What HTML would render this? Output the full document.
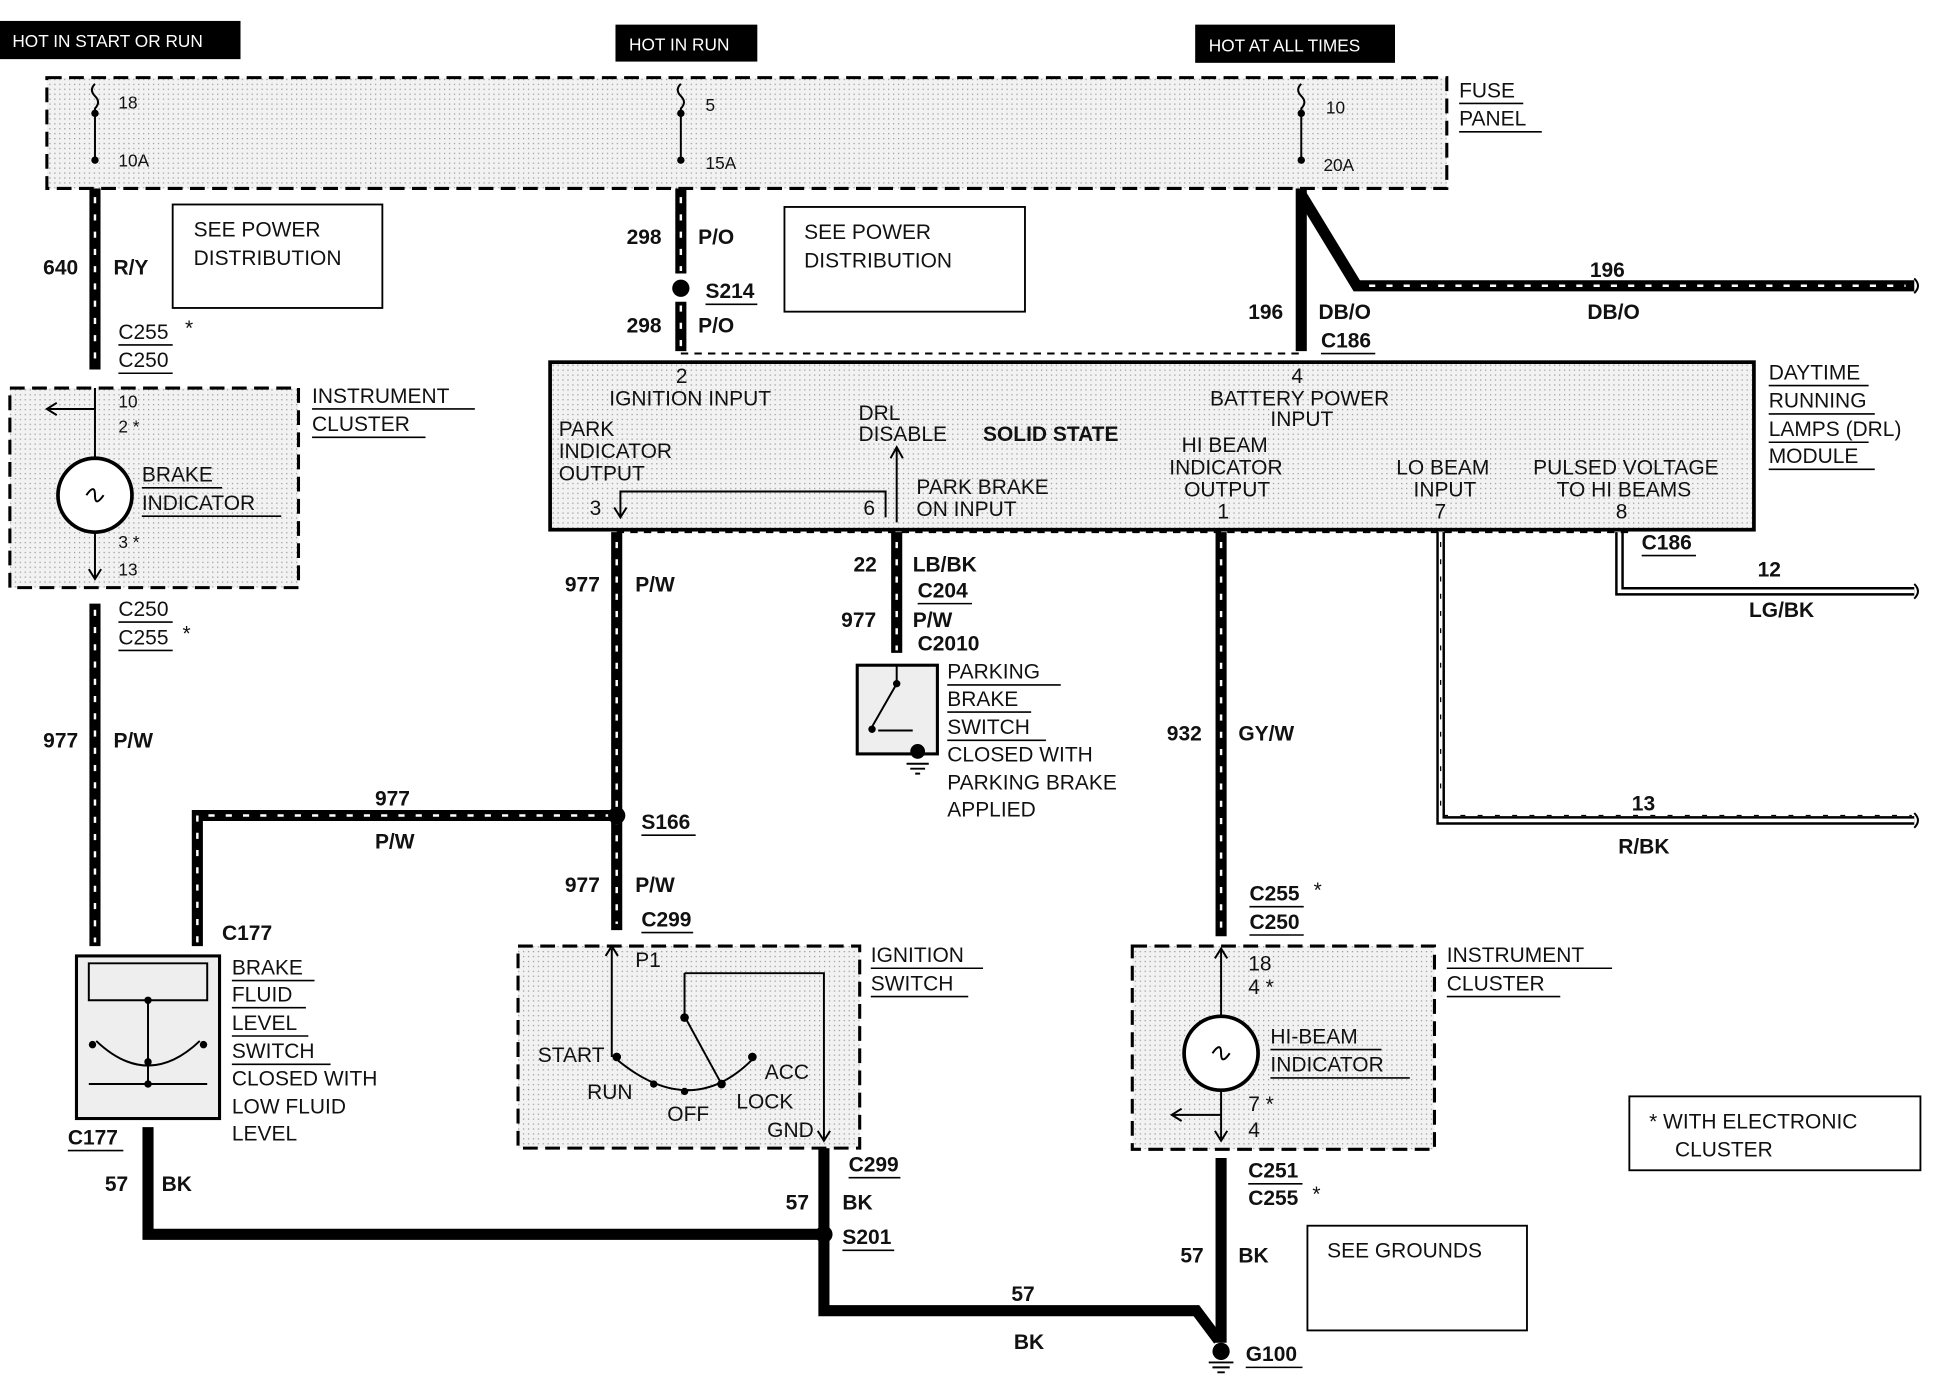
<!DOCTYPE html>
<html><head><meta charset="utf-8"><style>
html,body{margin:0;padding:0;background:#fff}
svg{display:block}
text{font-family:"Liberation Sans",sans-serif;font-size:17px;fill:#111}
.s{font-size:14px}
.b{font-weight:bold}
.w{stroke:#000;stroke-width:9;fill:none}
.d{stroke:#fff;stroke-width:2;stroke-dasharray:5 9;fill:none}
.t{stroke:#000;stroke-width:1.6;fill:none}
.box{fill:#e9e9e9;stroke:#000;stroke-width:2.5;stroke-dasharray:12 6}
.pl{fill:#fff;stroke:#000;stroke-width:1.5}
.u{stroke:#000;stroke-width:1.3}
</style></head><body>
<svg width="1934" height="1376" viewBox="0 0 1568 1117" preserveAspectRatio="none" xmlns="http://www.w3.org/2000/svg">
<defs><pattern id="st" width="4" height="4" patternUnits="userSpaceOnUse"><rect width="4" height="4" fill="#f2f2f2"/><rect width="1" height="1" fill="#999"/></pattern></defs>
<!-- top labels -->
<rect x="0" y="17" width="195" height="31" fill="#000"/><text x="10" y="38" style="fill:#fff;font-size:14px">HOT IN START OR RUN</text>
<rect x="499" y="20" width="115" height="30" fill="#000"/><text x="510" y="41" style="fill:#fff;font-size:14px">HOT IN RUN</text>
<rect x="969" y="20" width="162" height="31" fill="#000"/><text x="980" y="42" style="fill:#fff;font-size:14px">HOT AT ALL TIMES</text>
<!-- fuse panel -->
<rect x="38" y="63" width="1135" height="90" class="box" style="fill:url(#st)"/>
<text x="1183" y="79">FUSE</text><line x1="1183" y1="84" x2="1235" y2="84" class="u"/>
<text x="1183" y="102">PANEL</text><line x1="1183" y1="107" x2="1250" y2="107" class="u"/>
<g class="t">
<path d="M77 68 q-5 5 0 10 q5 5 0 10 v40"/><path d="M552 68 q-5 5 0 10 q5 5 0 10 v40"/><path d="M1055 68 q-5 5 0 10 q5 5 0 10 v40"/>
</g>
<circle cx="77" cy="92" r="3"/><circle cx="77" cy="130" r="3"/><circle cx="552" cy="92" r="3"/><circle cx="552" cy="130" r="3"/><circle cx="1055" cy="92" r="3"/><circle cx="1055" cy="130" r="3"/>
<text x="96" y="88" class="s">18</text><text x="96" y="135" class="s">10A</text>
<text x="572" y="90" class="s">5</text><text x="572" y="137" class="s">15A</text>
<text x="1075" y="92" class="s">10</text><text x="1073" y="139" class="s">20A</text>
<!-- SEE POWER boxes -->
<rect x="140" y="166" width="170" height="84" class="pl"/><text x="157" y="192">SEE POWER</text><text x="157" y="215">DISTRIBUTION</text>
<rect x="636" y="168" width="195" height="85" class="pl"/><text x="652" y="194">SEE POWER</text><text x="652" y="217">DISTRIBUTION</text>
<rect x="1060" y="995" width="178" height="85" class="pl"/><text x="1076" y="1021">SEE GROUNDS</text>
<rect x="1321" y="890" width="236" height="60" class="pl"/><text x="1337" y="916">* WITH ELECTRONIC</text><text x="1358" y="939">CLUSTER</text>
<!-- wires -->
<g>
<path class="w" d="M77 153 V300"/><path class="d" d="M77 160 V295"/>
<path class="w" d="M77 490 V768"/><path class="d" d="M77 495 V765"/>
<path class="w" d="M160 768 V662 H500"/><path class="d" d="M160 765 V662 H495"/>
<path class="w" d="M552 153 V222"/><path class="d" d="M552 160 V220"/>
<path class="w" d="M552 245 V285"/><path class="d" d="M552 248 V283"/>
<path class="w" d="M1055 153 V285"/><path class="w" d="M1055 158 L1100 232 H1552"/><path class="d" d="M1110 232 H1545"/>
<path class="w" d="M500 432 V755"/><path class="d" d="M500 440 V750"/>
<path class="w" d="M727 432 V530"/><path class="d" d="M727 440 V528"/>
<path class="w" d="M990 432 V760"/><path class="d" d="M990 440 V755"/>
<path class="w" d="M120 915 V1002 H668"/>
<path class="w" d="M668 932 V1064 H970 L988 1088"/>
<path class="w" d="M990 940 V1090"/>
<path d="M1168 432 V666 H1552" style="stroke:#000;stroke-width:7;fill:none"/><path d="M1168 432 V666 H1552" style="stroke:#fff;stroke-width:3;fill:none"/><path d="M1168 440 V662 H1550" class="d" style="stroke:#000;stroke-width:1;stroke-dasharray:4 10"/>
<path d="M1313 432 V480 H1552" style="stroke:#000;stroke-width:7;fill:none"/><path d="M1313 432 V480 H1552" style="stroke:#fff;stroke-width:3;fill:none"/>
</g>
<circle cx="552" cy="234" r="7"/><circle cx="500" cy="662" r="7"/><circle cx="668" cy="1002" r="7"/><circle cx="990" cy="1097" r="7"/>
<path d="M980 1106 h20 M983 1110 h14 M987 1114 h6" class="t"/>
<line x1="552" y1="287" x2="1055" y2="287" class="t" style="stroke-dasharray:6 5"/>
<line x1="500" y1="432" x2="1320" y2="432" class="t" style="stroke-dasharray:6 5"/>
<!-- wire labels -->
<text x="35" y="223" class="b">640</text><text x="92" y="223" class="b">R/Y</text>
<text x="96" y="275">C255</text><text x="150" y="272">*</text><line x1="96" y1="280" x2="140" y2="280" class="u"/><text x="96" y="298">C250</text><line x1="96" y1="303" x2="140" y2="303" class="u"/>
<text x="96" y="500">C250</text><line x1="96" y1="505" x2="140" y2="505" class="u"/><text x="96" y="523">C255</text><text x="148" y="520">*</text><line x1="96" y1="528" x2="140" y2="528" class="u"/>
<text x="35" y="607" class="b">977</text><text x="92" y="607" class="b">P/W</text>
<text x="304" y="654" class="b">977</text><text x="304" y="689" class="b">P/W</text>
<text x="520" y="673" class="b">S166</text><line x1="520" y1="678" x2="564" y2="678" class="u"/>
<text x="508" y="198" class="b">298</text><text x="566" y="198" class="b">P/O</text>
<text x="572" y="242" class="b">S214</text><line x1="572" y1="247" x2="614" y2="247" class="u"/>
<text x="508" y="270" class="b">298</text><text x="566" y="270" class="b">P/O</text>
<text x="1289" y="225" class="b">196</text><text x="1287" y="259" class="b">DB/O</text>
<text x="1012" y="259" class="b">196</text><text x="1069" y="259" class="b">DB/O</text>
<text x="1071" y="282" class="b">C186</text><line x1="1071" y1="287" x2="1115" y2="287" class="u"/>
<text x="458" y="480" class="b">977</text><text x="515" y="480" class="b">P/W</text>
<text x="458" y="724" class="b">977</text><text x="515" y="724" class="b">P/W</text>
<text x="520" y="752" class="b">C299</text><line x1="520" y1="757" x2="562" y2="757" class="u"/>
<text x="692" y="464" class="b">22</text><text x="740" y="464" class="b">LB/BK</text>
<text x="744" y="485" class="b">C204</text><line x1="744" y1="490" x2="788" y2="490" class="u"/>
<text x="682" y="509" class="b">977</text><text x="740" y="509" class="b">P/W</text><text x="744" y="528" class="b">C2010</text>
<text x="946" y="601" class="b">932</text><text x="1004" y="601" class="b">GY/W</text>
<text x="1013" y="731" class="b">C255</text><text x="1065" y="728">*</text><line x1="1013" y1="736" x2="1057" y2="736" class="u"/><text x="1013" y="754" class="b">C250</text><line x1="1013" y1="759" x2="1057" y2="759" class="u"/>
<text x="1012" y="956" class="b">C251</text><line x1="1012" y1="961" x2="1056" y2="961" class="u"/><text x="1012" y="978" class="b">C255</text><text x="1064" y="975">*</text>
<text x="957" y="1025" class="b">57</text><text x="1004" y="1025" class="b">BK</text>
<text x="1010" y="1105" class="b">G100</text><line x1="1010" y1="1110" x2="1056" y2="1110" class="u"/>
<text x="1323" y="658" class="b">13</text><text x="1312" y="693" class="b">R/BK</text>
<text x="1425" y="468" class="b">12</text><text x="1418" y="501" class="b">LG/BK</text>
<text x="1331" y="446" class="b">C186</text><line x1="1331" y1="451" x2="1375" y2="451" class="u"/>
<text x="85" y="967" class="b">57</text><text x="131" y="967" class="b">BK</text>
<text x="688" y="951" class="b">C299</text><line x1="688" y1="956" x2="730" y2="956" class="u"/>
<text x="637" y="982" class="b">57</text><text x="683" y="982" class="b">BK</text>
<text x="683" y="1010" class="b">S201</text><line x1="683" y1="1015" x2="725" y2="1015" class="u"/>
<text x="820" y="1056" class="b">57</text><text x="822" y="1095" class="b">BK</text>
<text x="180" y="763" class="b">C177</text><text x="55" y="929" class="b">C177</text><line x1="55" y1="934" x2="100" y2="934" class="u"/>
<!-- instrument cluster 1 -->
<rect x="8" y="315" width="234" height="162" class="box" style="fill:url(#st)"/>
<path class="t" d="M77 315 V372 M77 432 V470 M72 462 l5 8 l5 -8 M77 332 H38 M46 327 l-8 5 l8 5"/>
<circle cx="77" cy="402" r="30" fill="#fff" stroke="#000" stroke-width="3"/><path d="M70 402 q7 -10 7 0 q0 10 7 0" class="t"/>
<text x="96" y="331" class="s">10</text><text x="96" y="351" class="s">2 *</text><text x="96" y="445" class="s">3 *</text><text x="96" y="467" class="s">13</text>
<text x="115" y="391">BRAKE</text><line x1="115" y1="396" x2="180" y2="396" class="u"/><text x="115" y="414">INDICATOR</text><line x1="115" y1="419" x2="228" y2="419" class="u"/>
<text x="253" y="327">INSTRUMENT</text><line x1="253" y1="332" x2="385" y2="332" class="u"/><text x="253" y="350">CLUSTER</text><line x1="253" y1="355" x2="345" y2="355" class="u"/>
<!-- brake fluid -->
<rect x="62" y="776" width="116" height="132" fill="#eee" stroke="#000" stroke-width="2.5"/>
<path class="t" d="M72 782 H168 V812 H72 Z M120 812 V880 M72 880 H168 M78 845 q42 40 84 0"/>
<circle cx="120" cy="812" r="3"/><circle cx="120" cy="862" r="3"/><circle cx="120" cy="880" r="3"/><circle cx="75" cy="848" r="3"/><circle cx="165" cy="848" r="3"/>
<text x="188" y="791">BRAKE</text><line x1="188" y1="796" x2="255" y2="796" class="u"/><text x="188" y="813">FLUID</text><line x1="188" y1="818" x2="248" y2="818" class="u"/><text x="188" y="836">LEVEL</text><line x1="188" y1="841" x2="250" y2="841" class="u"/><text x="188" y="859">SWITCH</text><line x1="188" y1="864" x2="268" y2="864" class="u"/>
<text x="188" y="881">CLOSED WITH</text><text x="188" y="904">LOW FLUID</text><text x="188" y="926">LEVEL</text>
<!-- DRL module -->
<rect x="446" y="294" width="976" height="136" fill="url(#st)" stroke="#000" stroke-width="3"/>
<g class="s">
<text x="548" y="311">2</text><text x="494" y="329">IGNITION INPUT</text>
<text x="453" y="354">PARK</text><text x="453" y="372">INDICATOR</text><text x="453" y="390">OUTPUT</text><text x="478" y="418">3</text>
<text x="696" y="341">DRL</text><text x="696" y="358">DISABLE</text>
<text x="1047" y="311">4</text><text x="981" y="329">BATTERY POWER</text><text x="1030" y="346">INPUT</text>
<text x="958" y="367">HI BEAM</text><text x="948" y="385">INDICATOR</text><text x="960" y="403">OUTPUT</text><text x="987" y="421">1</text>
<text x="1132" y="385">LO BEAM</text><text x="1146" y="403">INPUT</text><text x="1163" y="421">7</text>
<text x="1243" y="385">PULSED VOLTAGE</text><text x="1262" y="403">TO HI BEAMS</text><text x="1310" y="421">8</text>
<text x="743" y="401">PARK BRAKE</text><text x="743" y="419">ON INPUT</text><text x="700" y="418">6</text>
</g>
<text x="797" y="358" class="b">SOLID STATE</text>
<path class="t" d="M727 424 V364 M722 372 l5 -9 l5 9 M503 420 V399 H718 V420 M498 412 l5 8 l5 -8"/>
<text x="1434" y="308">DAYTIME</text><line x1="1434" y1="313" x2="1515" y2="313" class="u"/><text x="1434" y="331">RUNNING</text><line x1="1434" y1="336" x2="1520" y2="336" class="u"/><text x="1434" y="354">LAMPS (DRL)</text><line x1="1434" y1="359" x2="1515" y2="359" class="u"/><text x="1434" y="376">MODULE</text><line x1="1434" y1="381" x2="1520" y2="381" class="u"/>
<!-- parking brake switch -->
<rect x="695" y="540" width="65" height="72" fill="#eee" stroke="#000" stroke-width="2.5"/>
<path class="t" d="M727 540 V555 L707 590 M712 593 H740"/><circle cx="727" cy="555" r="3"/><circle cx="707" cy="592" r="3"/><circle cx="744" cy="610" r="6"/><path class="t" d="M735 620 h18 M738 624 h12 M742 628 h4"/>
<text x="768" y="551">PARKING</text><line x1="768" y1="556" x2="860" y2="556" class="u"/><text x="768" y="573">BRAKE</text><line x1="768" y1="578" x2="836" y2="578" class="u"/><text x="768" y="596">SWITCH</text><line x1="768" y1="601" x2="848" y2="601" class="u"/>
<text x="768" y="618">CLOSED WITH</text><text x="768" y="641">PARKING BRAKE</text><text x="768" y="663">APPLIED</text>
<!-- ignition switch -->
<rect x="420" y="768" width="277" height="164" class="box" style="fill:url(#st)"/>
<path class="t" d="M496 770 V858 M491 776 l5 -8 l5 8 M555 790 H668 V925 M663 918 l5 8 l5 -8 M555 790 V825 L585 880 M500 860 q60 50 110 0"/>
<circle cx="500" cy="858" r="3.5"/><circle cx="555" cy="826" r="3.5"/><circle cx="585" cy="880" r="3.5"/><circle cx="530" cy="880" r="3"/><circle cx="555" cy="886" r="3"/><circle cx="610" cy="858" r="3.5"/>
<g class="s"><text x="515" y="785">P1</text><text x="436" y="862">START</text><text x="476" y="892">RUN</text><text x="541" y="910">OFF</text><text x="597" y="900">LOCK</text><text x="620" y="876">ACC</text><text x="622" y="923">GND</text></g>
<text x="706" y="781">IGNITION</text><line x1="706" y1="786" x2="797" y2="786" class="u"/><text x="706" y="804">SWITCH</text><line x1="706" y1="809" x2="785" y2="809" class="u"/>
<!-- instrument cluster 2 -->
<rect x="918" y="768" width="245" height="165" class="box" style="fill:url(#st)"/>
<path class="t" d="M990 770 V825 M985 778 l5 -8 l5 8 M990 885 V925 M985 918 l5 8 l5 -8 M990 905 H950 M958 900 l-8 5 l8 5"/>
<circle cx="990" cy="855" r="30" fill="#fff" stroke="#000" stroke-width="3"/><path d="M983 855 q7 -10 7 0 q0 10 7 0" class="t"/>
<g class="s"><text x="1012" y="788">18</text><text x="1012" y="807">4 *</text><text x="1012" y="902">7 *</text><text x="1012" y="923">4</text></g>
<text x="1030" y="847">HI-BEAM</text><line x1="1030" y1="852" x2="1120" y2="852" class="u"/><text x="1030" y="870">INDICATOR</text><line x1="1030" y1="875" x2="1143" y2="875" class="u"/>
<text x="1173" y="781">INSTRUMENT</text><line x1="1173" y1="786" x2="1307" y2="786" class="u"/><text x="1173" y="804">CLUSTER</text><line x1="1173" y1="809" x2="1265" y2="809" class="u"/>
<!-- wire end squiggles -->
<path class="t" d="M1552 226 q6 6 0 12 M1552 474 q6 6 0 12 M1552 660 q6 6 0 12"/>
</svg>
</body></html>
